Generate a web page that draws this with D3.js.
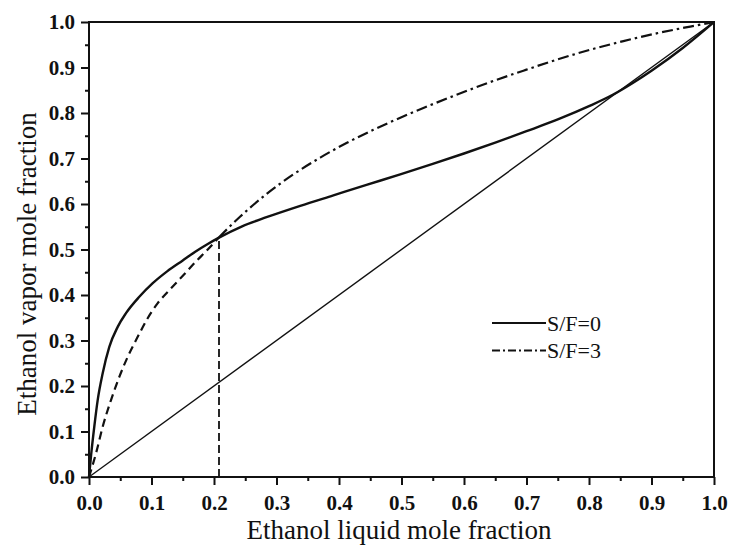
<!DOCTYPE html>
<html>
<head>
<meta charset="utf-8">
<script src="https://cdn.jsdelivr.net/npm/d3@7"></script>
<style>
  body { margin: 0; background: #fff; }
  .tick text { font-family: "Liberation Serif", "Times New Roman", serif; font-weight: bold; font-size: 21px; fill: #111; }
  .title { font-family: "Liberation Serif", "Times New Roman", serif; font-size: 27px; fill: #111; }
  .legend text { font-family: "Liberation Serif", "Times New Roman", serif; font-size: 22px; fill: #111; }
</style>
</head>
<body>
<script>
// values
// S/F=0 curve (solid)
var sf0X = [0, 0.0035, 0.0085, 0.0139, 0.0219, 0.0325, 0.0459, 0.0592, 0.0805, 0.102, 0.125, 0.15, 0.17, 0.19, 0.208, 0.245, 0.284, 0.338, 0.391, 0.444, 0.498, 0.55, 0.60, 0.65, 0.70, 0.754, 0.80, 0.838, 0.87, 0.90, 0.95, 1.0];
var sf0Y = [0, 0.05, 0.111, 0.169, 0.228, 0.286, 0.330, 0.360, 0.396, 0.426, 0.452, 0.476, 0.495, 0.512, 0.526, 0.551, 0.571, 0.596, 0.619, 0.642, 0.665, 0.688, 0.711, 0.735, 0.760, 0.788, 0.815, 0.840, 0.866, 0.893, 0.943, 1.0];
// S/F=3 curve, dashed part below the pinch
var sf3LowX = [0, 0.0112, 0.022, 0.0352, 0.0485, 0.0619, 0.0779, 0.0939, 0.11, 0.128, 0.152, 0.17, 0.19, 0.208];
var sf3LowY = [0, 0.052, 0.111, 0.169, 0.220, 0.264, 0.308, 0.349, 0.382, 0.41, 0.445, 0.472, 0.50, 0.527];
// S/F=3 curve, dash-dot part
var sf3HighX = [0.208, 0.2416, 0.284, 0.327, 0.37, 0.412, 0.455, 0.487, 0.535, 0.588, 0.642, 0.695, 0.748, 0.802, 0.855, 0.908, 0.962, 1.0];
var sf3HighY = [0.527, 0.572, 0.622, 0.665, 0.702, 0.734, 0.763, 0.783, 0.811, 0.840, 0.868, 0.893, 0.917, 0.939, 0.958, 0.975, 0.990, 1.0];
// pinch point
var pinchX = 0.208, pinchY = 0.527;
var legendLabels = ["S/F=0", "S/F=3"];
var majorTicks = d3.range(0, 11).map(function(i){ return i / 10; });
var minorTicks = d3.range(0, 10).map(function(i){ return i / 10 + 0.05; });

var width = 730, height = 547;
var margin = {left: 89, top: 22, right: 16, bottom: 70};

var svg = d3.select("body").append("svg")
  .attr("width", width)
  .attr("height", height);

var x = d3.scaleLinear().domain([0, 1]).range([margin.left, width - margin.right]);
var y = d3.scaleLinear().domain([0, 1]).range([height - margin.bottom, margin.top]);

function zip(xs, ys){
  return xs.map(function(v, i){ return [v, ys[i]]; });
}

var line = d3.line()
  .x(function(d){ return x(d[0]); })
  .y(function(d){ return y(d[1]); })
  .curve(d3.curveMonotoneX);

var straight = d3.line()
  .x(function(d){ return x(d[0]); })
  .y(function(d){ return y(d[1]); });

// diagonal y = x
svg.append("path")
  .datum([[0, 0], [1, 1]])
  .attr("d", straight)
  .attr("fill", "none")
  .attr("stroke", "#111")
  .attr("stroke-width", 1.4);

// vertical dashed line at the pinch
svg.append("path")
  .datum([[pinchX, 0], [pinchX, pinchY]])
  .attr("d", straight)
  .attr("fill", "none")
  .attr("stroke", "#111")
  .attr("stroke-width", 1.8)
  .attr("stroke-dasharray", "8,4");

// S/F=3 curves
svg.append("path")
  .datum(zip(sf3LowX, sf3LowY))
  .attr("d", line)
  .attr("fill", "none")
  .attr("stroke", "#111")
  .attr("stroke-width", 2.2)
  .attr("stroke-dasharray", "8,5");

svg.append("path")
  .datum(zip(sf3HighX, sf3HighY))
  .attr("d", line)
  .attr("fill", "none")
  .attr("stroke", "#111")
  .attr("stroke-width", 2.2)
  .attr("stroke-dasharray", "11,4,2.5,4");

// S/F=0 curve
svg.append("path")
  .datum(zip(sf0X, sf0Y))
  .attr("d", line)
  .attr("fill", "none")
  .attr("stroke", "#111")
  .attr("stroke-width", 2.4);

// frame
svg.append("rect")
  .attr("x", x(0))
  .attr("y", y(1))
  .attr("width", x(1) - x(0))
  .attr("height", y(0) - y(1))
  .attr("fill", "none")
  .attr("stroke", "#111")
  .attr("stroke-width", 2);

// axes
var fmt = d3.format(".1f");
var xAxis = svg.append("g")
  .attr("transform", "translate(0," + y(0) + ")")
  .call(d3.axisBottom(x).tickValues(majorTicks).tickFormat(fmt).tickSize(8).tickPadding(10));
var xMinor = svg.append("g")
  .attr("transform", "translate(0," + y(0) + ")")
  .call(d3.axisBottom(x).tickValues(minorTicks).tickFormat("").tickSize(4));
var yAxis = svg.append("g")
  .attr("transform", "translate(" + x(0) + ",0)")
  .call(d3.axisLeft(y).tickValues(majorTicks).tickFormat(fmt).tickSize(8).tickPadding(6));
var yMinor = svg.append("g")
  .attr("transform", "translate(" + x(0) + ",0)")
  .call(d3.axisLeft(y).tickValues(minorTicks).tickFormat("").tickSize(4));

[xAxis, xMinor, yAxis, yMinor].forEach(function(g){
  g.select(".domain").remove();
  g.selectAll(".tick line").attr("stroke", "#111").attr("stroke-width", 2);
});

// axis titles
svg.append("text")
  .attr("class", "title")
  .attr("x", 399)
  .attr("y", 539)
  .attr("text-anchor", "middle")
  .text("Ethanol liquid mole fraction");

svg.append("text")
  .attr("class", "title")
  .attr("transform", "translate(36,264) rotate(-90)")
  .attr("text-anchor", "middle")
  .text("Ethanol vapor mole fraction");

// legend
var legend = svg.append("g").attr("class", "legend");
var dashes = [null, "8,3,2,3"];
legendLabels.forEach(function(lab, i){
  var ly = 323 + i * 27.5;
  legend.append("line")
    .attr("x1", 492).attr("x2", 546)
    .attr("y1", ly).attr("y2", ly)
    .attr("stroke", "#111")
    .attr("stroke-width", 2.2)
    .attr("stroke-dasharray", dashes[i]);
  legend.append("text")
    .attr("x", 547)
    .attr("y", ly + 7.5)
    .text(lab);
});
</script>
</body>
</html>
